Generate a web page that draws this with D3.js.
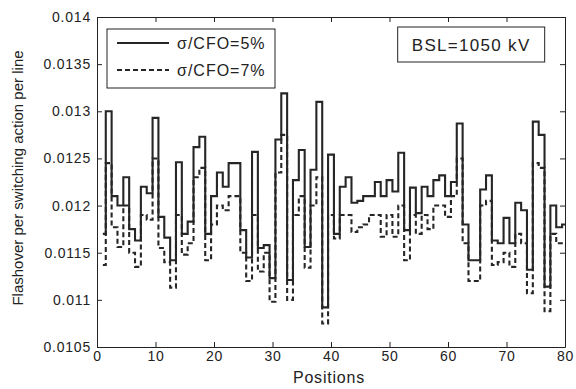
<!DOCTYPE html>
<html>
<head>
<meta charset="utf-8">
<script src="https://cdn.jsdelivr.net/npm/d3@7"></script>
<style>
  body { margin: 0; background: #fff; }
  svg text { font-family: "Liberation Sans", Arial, sans-serif; fill: #222; }
  .axis path, .axis line { stroke: #222; }
</style>
</head>
<body>
<svg id="chart" width="576" height="389"></svg>
<script>
// values per position (1..80)
const sigma5 = [
  0.0117, 0.0130, 0.0121, 0.0120, 0.0123, 0.01175, 0.01163, 0.0122, 0.01213, 0.01293,
  0.01188, 0.01166, 0.01142, 0.01246, 0.0117, 0.01183, 0.01262, 0.01273, 0.0117, 0.0121,
  0.01235, 0.0122, 0.01245, 0.01245, 0.01174, 0.01145, 0.01257, 0.01155, 0.01158, 0.01123,
  0.0127, 0.01319, 0.01121, 0.01227, 0.01259, 0.01156, 0.01238, 0.0131, 0.01092, 0.01254,
  0.0117, 0.0122, 0.0123, 0.01203, 0.01205, 0.0121, 0.0121, 0.01225, 0.0121, 0.01227,
  0.01215, 0.01256, 0.01174, 0.01219, 0.01192, 0.0122, 0.0121, 0.01227, 0.01232, 0.0121,
  0.01225, 0.01287, 0.0118, 0.01142, 0.01142, 0.01217, 0.01232, 0.01163, 0.0116, 0.01187,
  0.0116, 0.01203, 0.01195, 0.01132, 0.01289, 0.01275, 0.01114, 0.0120, 0.01177, 0.0118
];
const sigma7 = [
  0.01137, 0.01245, 0.01177, 0.01156, 0.0120, 0.0115, 0.01135, 0.0119, 0.01185, 0.0125,
  0.01155, 0.0114, 0.01113, 0.0119, 0.01148, 0.0116, 0.0123, 0.0124, 0.01142, 0.0118,
  0.0120, 0.01195, 0.0121, 0.0121, 0.0115, 0.0112, 0.0119, 0.0113, 0.0115, 0.01098,
  0.01235, 0.01275, 0.0110, 0.0119, 0.0121, 0.01134, 0.0120, 0.0123, 0.01075, 0.0119,
  0.01165, 0.0119, 0.0119, 0.01172, 0.01177, 0.0118, 0.0119, 0.0119, 0.01167, 0.0119,
  0.01167, 0.0120, 0.01142, 0.0119, 0.0117, 0.0119, 0.01175, 0.0120, 0.0120, 0.01188,
  0.0121, 0.0125, 0.0116, 0.0112, 0.0112, 0.0120, 0.01205, 0.01137, 0.0114, 0.0115,
  0.01135, 0.0117, 0.0116, 0.01107, 0.01245, 0.0124, 0.01088, 0.0117, 0.0116, 0.0116
];
const xTicks = [0, 10, 20, 30, 40, 50, 60, 70, 80];
const yTicks = [0.0105, 0.011, 0.0115, 0.012, 0.0125, 0.013, 0.0135, 0.014];
const yTickLabels = ["0.0105", "0.011", "0.0115", "0.012", "0.0125", "0.013", "0.0135", "0.014"];
const seriesNames = ["\u03c3/CFO=5%", "\u03c3/CFO=7%"];

const margin = { top: 17, right: 11, bottom: 42, left: 97 };
const width = 576 - margin.left - margin.right;
const height = 389 - margin.top - margin.bottom;

const svg = d3.select("#chart");
const g = svg.append("g").attr("transform", `translate(${margin.left},${margin.top})`);

const x = d3.scaleLinear().domain([0, 80]).range([0, width]);
const y = d3.scaleLinear().domain([0.0105, 0.014]).range([height, 0]);

// axes, ticks pointing inwards like matlab
g.append("g").attr("class", "axis")
    .attr("transform", `translate(0,${height})`)
    .call(d3.axisBottom(x).tickValues(xTicks).tickSizeInner(-5).tickSizeOuter(0).tickPadding(4))
    .call(a => a.selectAll("text").attr("font-size", 14).attr("letter-spacing", 0.8));

g.append("g").attr("class", "axis")
    .call(d3.axisLeft(y).tickValues(yTicks).tickSizeInner(-5).tickSizeOuter(0).tickPadding(6)
        .tickFormat((d, i) => yTickLabels[i]))
    .call(a => a.selectAll("text").attr("font-size", 14).attr("letter-spacing", 0.8));

g.append("g").attr("class", "axis")
    .call(d3.axisTop(x).tickValues(xTicks).tickSizeInner(-5).tickSizeOuter(0).tickFormat(""));

g.append("g").attr("class", "axis")
    .attr("transform", `translate(${width},0)`)
    .call(d3.axisRight(y).tickValues(yTicks).tickSizeInner(-5).tickSizeOuter(0).tickFormat(""));

const line = d3.line()
    .x((d, i) => x(i + 1))
    .y(d => y(d))
    .curve(d3.curveStep);

g.append("path")
    .datum(sigma7)
    .attr("d", line)
    .attr("fill", "none")
    .attr("stroke", "#262626")
    .attr("stroke-width", 2.1)
    .attr("stroke-dasharray", "5,3");

g.append("path")
    .datum(sigma5)
    .attr("d", line)
    .attr("fill", "none")
    .attr("stroke", "#262626")
    .attr("stroke-width", 2.1);

// legend
const legend = g.append("g").attr("transform", "translate(10,12)");
legend.append("rect")
    .attr("width", 168).attr("height", 59)
    .attr("fill", "#fff").attr("stroke", "#222");
seriesNames.forEach((name, i) => {
    const row = legend.append("g").attr("transform", `translate(0,${14 + i * 27})`);
    row.append("line")
        .attr("x1", 10).attr("x2", 62)
        .attr("stroke", "#262626").attr("stroke-width", 2.1)
        .attr("stroke-dasharray", i === 0 ? null : "5,3");
    row.append("text")
        .attr("x", 70).attr("dy", "0.35em")
        .attr("font-size", 16).attr("letter-spacing", 1)
        .text(name);
});

// annotation box
const note = g.append("g").attr("transform", `translate(${x(51.4)},10)`);
note.append("rect")
    .attr("width", 147).attr("height", 35)
    .attr("fill", "#fff").attr("stroke", "#222");
note.append("text")
    .attr("x", 73.5).attr("y", 18).attr("dy", "0.35em")
    .attr("text-anchor", "middle").attr("font-size", 17).attr("letter-spacing", 1.3)
    .text("BSL=1050 kV");

// axis titles
svg.append("text")
    .attr("x", margin.left + width / 2 - 2).attr("y", 383)
    .attr("text-anchor", "middle").attr("font-size", 16).attr("letter-spacing", 0.8)
    .text("Positions");

svg.append("text")
    .attr("transform", `translate(23,178) rotate(-90)`)
    .attr("text-anchor", "middle").attr("font-size", 15)
    .text("Flashover per switching action per line");
</script>
</body>
</html>
